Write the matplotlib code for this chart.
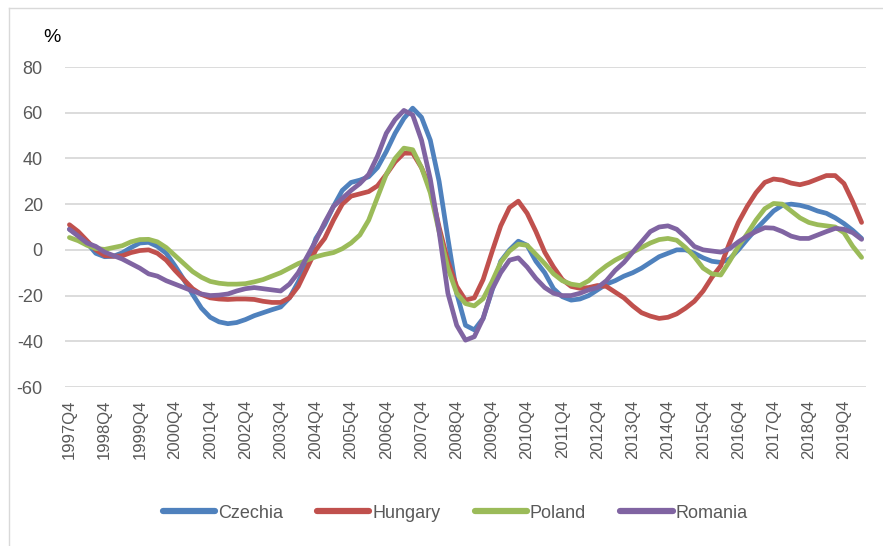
import matplotlib
matplotlib.use("Agg")
import matplotlib.pyplot as plt
from matplotlib.lines import Line2D
import numpy as np

years = list(range(1997, 2021))
quarters = [f"{y}Q{q}" for y in years for q in range(1, 5)]
quarters = quarters[quarters.index("1997Q4"):quarters.index("2020Q2") + 1]

czechia = [9, 6.5, 3, -1.5, -3, -2.8, -1.3, 1, 3, 3.3, 1.5, -1.5, -7, -13, -19.5, -25.5,
           -29.5, -31.5, -32.3, -31.8, -30.5, -28.8, -27.5, -26.2, -25, -21, -14, -6, 5, 11, 19, 26,
           29.5, 30.5, 32, 36, 43, 51, 57.5, 62, 58, 48, 30, 5, -19, -33, -35, -30,
           -18, -5, 0, 3.8, 2, -5, -10, -17, -20.5, -22, -21.5, -20, -17.5, -15, -13.5, -11.5,
           -10, -8, -5.5, -3, -1.5, 0, 0, -1.5, -3.5, -5, -5.5, -4, 0, 4.6, 9, 13,
           17, 19.5, 20, 19.5, 18.5, 17, 16, 14, 11.5, 8.5, 5]
hungary = [11, 8, 4, 0, -2.5, -2.8, -2.6, -1.2, -0.3, 0, -1.5, -4.5, -9, -13, -17, -19.5,
           -21, -21.5, -21.7, -21.5, -21.5, -21.7, -22.5, -23, -23, -21, -16, -8, 0, 5, 13, 20,
           23.5, 24.5, 25.5, 28, 33, 38.5, 42.3, 42.3, 36, 27, 10, -5, -16, -22, -21, -13,
           -1, 10.5, 18.5, 21.3, 16, 8, -1, -7.5, -13, -16, -16.8, -16.5, -15.6, -16, -18.5, -21,
           -24.5, -27.5, -29, -30, -29.5, -28, -25.5, -22.5, -18, -12, -7, 3, 12, 19, 25, 29.5,
           31, 30.5, 29.2, 28.5, 29.5, 31, 32.5, 32.5, 29, 21, 12]
poland = [5.4, 4, 2, 0.6, 0.2, 1, 1.8, 3.5, 4.5, 4.6, 3.5, 1, -2.5, -6, -9.5, -12,
          -13.8, -14.6, -15, -15, -14.8, -14, -13, -11.5, -10, -8, -6, -4.5, -3, -2, -1.2, 0.5,
          3, 6.5, 13, 23, 33, 40, 44.5, 43.8, 36, 25, 8, -8, -19, -23.5, -24.5, -21.4,
          -14, -5.5, -0.5, 2.5, 2, -2, -6, -10.5, -13.5, -15, -15.6, -13.5, -10, -7, -4.5, -2.5,
          -1, 1, 3, 4.5, 5, 4.2, 1, -3, -8, -10.5, -11, -5, 1.5, 7, 13, 18,
          20.3, 20, 17, 14, 12, 11, 10.5, 10, 7.5, 1.5, -3.3]
romania = [9, 6, 3, 1.5, -1, -2.5, -4, -6, -8, -10.5, -11.5, -13.5, -15, -16.5, -18, -19.3,
           -20, -19.8, -19.3, -18, -17, -16.5, -17, -17.5, -18, -15, -10, -3, 4, 12, 19, 22.5,
           26, 29, 33, 41, 51, 57, 61, 59, 48, 31, 8, -19, -33, -39.5, -38, -30,
           -17.5, -10, -4.5, -3.5, -7.5, -12.5, -16.5, -19, -20, -20, -19, -17.5, -16.5, -13.5, -9, -5.5,
           -1, 3.5, 8, 10, 10.5, 9, 5.5, 1.5, 0, -0.5, -1, 0.5, 3.5, 6, 8, 9.7,
           9.5, 8, 6, 5, 5, 6.5, 8, 9.4, 9, 7.5, 4.6]

series_names = ["Czechia", "Hungary", "Poland", "Romania"]
series_values = [czechia, hungary, poland, romania]
colors = ["#4F81BD", "#C0504D", "#9BBB59", "#8064A2"]
yticks = [80, 60, 40, 20, 0, -20, -40, -60]

plt.rcParams['font.family'] = ['Liberation Sans', 'DejaVu Sans']

fig = plt.figure(figsize=(8.83, 5.46), dpi=100)
ax = fig.add_axes([65 / 883, 1 - 387 / 546, (866 - 65) / 883, (387 - 67) / 546])

x = np.arange(len(quarters))
for name, vals, c in zip(series_names, series_values, colors):
    ax.plot(x, vals, color=c, lw=3.4, label=name, solid_capstyle='round', solid_joinstyle='round')

ax.set_xlim(-0.5, len(quarters) - 0.5)
ax.set_ylim(-60, 80)
ax.set_yticks(yticks)
ax.set_yticklabels([str(v) for v in yticks], fontsize=13, color="#595959")
tick_idx = list(range(0, len(quarters), 4))
ax.set_xticks(tick_idx)
ax.set_xticklabels([quarters[i] for i in tick_idx], rotation=90, fontsize=12, color="#595959")
ax.tick_params(axis='both', length=0)
ax.tick_params(axis='y', pad=16)
ax.tick_params(axis='x', pad=9)
ax.grid(axis='y', color="#D9D9D9", lw=1.3)
ax.set_axisbelow(True)
for s in ax.spines.values():
    s.set_visible(False)

fig.text(52 / 883, 1 - 37 / 546, "%", fontsize=14, color="black", ha="center", va="center")

leg = fig.legend(loc="center", bbox_to_anchor=(455 / 883, 1 - 513 / 546), ncol=4, frameon=False,
                 fontsize=13, handlelength=2.9, handletextpad=0.15, columnspacing=1.9)
for t in leg.get_texts():
    t.set_color("#595959")
for h in leg.get_lines():
    h.set_linewidth(4.5)

fig.add_artist(Line2D([9 / 883, 9 / 883], [0, 1 - 8 / 546], color="#D9D9D9", lw=1, transform=fig.transFigure))
fig.add_artist(Line2D([9 / 883, 1], [1 - 8 / 546, 1 - 8 / 546], color="#D9D9D9", lw=1, transform=fig.transFigure))

fig.savefig("out.png", dpi=100)
